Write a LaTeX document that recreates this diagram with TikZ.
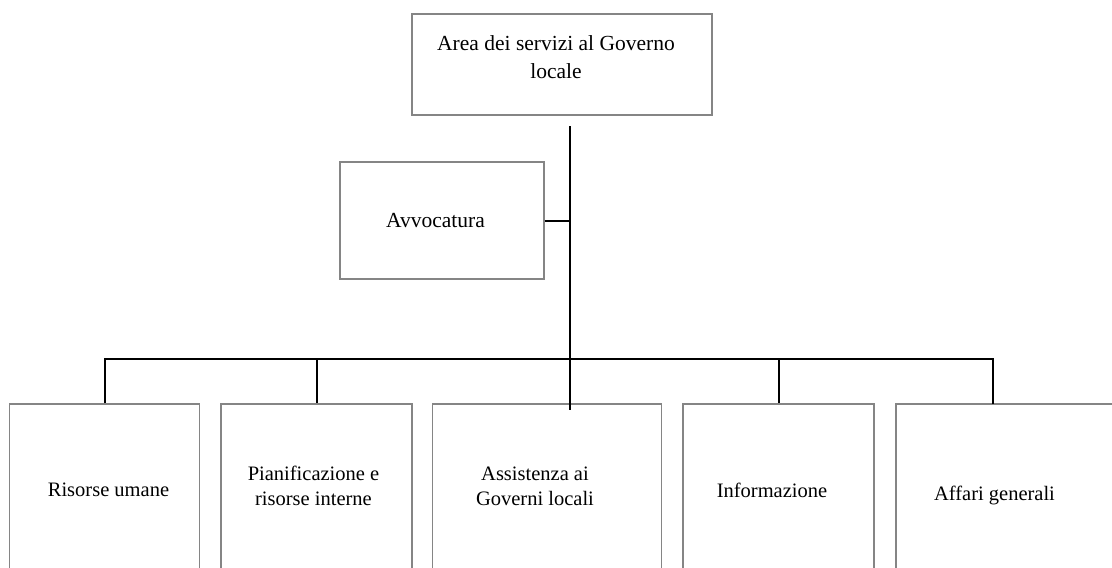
\documentclass[tikz,border=0pt]{standalone}
\usepackage{fontspec}
\setmainfont{Liberation Serif}
\begin{document}
\begin{tikzpicture}[x=1pt,y=-1pt,
  box/.style={draw=black!48, line width=1.2pt, fill=none, inner sep=0pt},
  txt/.style={align=center, inner sep=0pt, font=\fontsize{20.5}{25}\selectfont},
  bigtxt/.style={align=center, inner sep=0pt, font=\fontsize{21.5}{28}\selectfont},
  link/.style={draw=black, line width=2pt}]
\useasboundingbox (0,0) rectangle (1112,568);
\clip (0,0) rectangle (1112,568);

% head of the area
\node[box, minimum width=300pt, minimum height=101pt] (top) at (562,64.5) {};
\node[bigtxt] (toptxt) at (556,57) {Area dei servizi al Governo\\locale};

% staff office
\node[box, minimum width=204pt, minimum height=117pt] (avv) at (442,220.5) {};
\node[bigtxt] (avvtxt) at (435.5,221) {Avvocatura};

% line offices (boxes run past the lower edge)
\node[box, minimum width=190pt, minimum height=200pt] (r1) at (104.5,504) {};
\node[box, minimum width=191pt, minimum height=200pt] (r2) at (316.5,504) {};
\node[box, minimum width=229pt, minimum height=200pt] (r3) at (547.2,504) {};
\node[box, minimum width=191pt, minimum height=200pt] (r4) at (778.5,504) {};
\node[box, minimum width=231pt, minimum height=200pt] (r5) at (1011.5,504) {};

\node[txt] (t1) at (108.5,490) {Risorse umane};
\node[txt] (t2) at (313.5,486) {Pianificazione e\\risorse interne};
\node[txt] (t3) at (535,486) {Assistenza ai\\Governi locali};
\node[txt] (t4) at (772,490) {Informazione};
\node[txt] (t5) at (994.5,495) {Affari generali};

% connectors
\coordinate (trunk) at (569.5,126);
\coordinate (trunkend) at (569.5,410);
\coordinate (bus) at (569.5,358.5);
\coordinate (drop5) at (992.5,404);
\draw[link] (trunk) -- (trunkend);
\draw[link] (avv.east) -- (avv.east -| trunk);
\draw[link] (r1.north) |- (bus) -| (drop5);
\draw[link] (bus -| r2.north) -- (r2.north);
\draw[link] (bus -| r4.north) -- (r4.north);
\end{tikzpicture}
\end{document}
